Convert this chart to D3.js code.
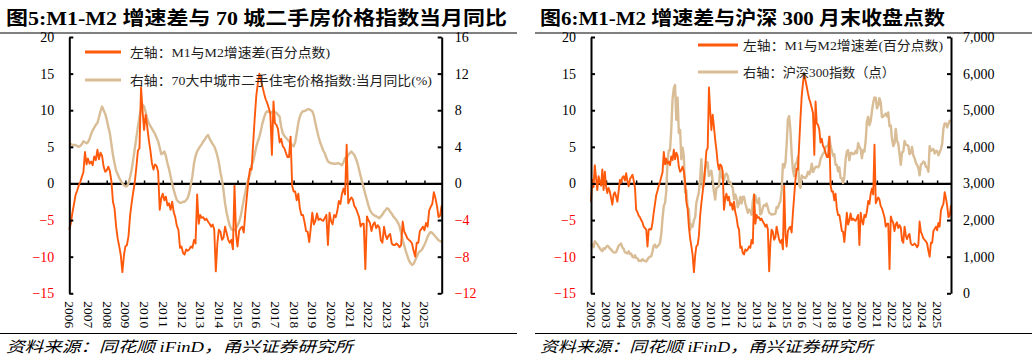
<!DOCTYPE html>
<html>
<head>
<meta charset="utf-8">
<script src="https://cdn.jsdelivr.net/npm/d3@7"></script>
<style>
  body { margin: 0; background: #fff; }
  svg text { font-family: "Liberation Serif", "Noto Sans CJK SC", serif; }
</style>
</head>
<body>
<svg id="chart" width="1032" height="360"></svg>
<script>
// M1-M2 spread (pct pts), monthly from 2002-03
var spreadStart = new Date(2002, 2, 1);
var spreadVals = [
  -2.5, 0.5, -0.5, 2.5, 0.8, -0.9, 1.0, 0.2, -0.3, 1.9,                 // 2002 Mar-Dec
  -0.9, 1.6, -0.4, -1.3, -0.6, -1.1, -2.0, -2.9, -1.5, -1.2, -1.8, -2.5, // 2003
  -1.0, 0.5, 0.1, 0.8, 1.0, 0.4, 1.4, 0.3, -0.4, 0.6, 0.9, 1.2,          // 2004
  0.4, -0.6, -3.6, -3.9, -4.4, -4.6, -5.0, -5.3, -5.9, -6.1, -6.3, -8.6, // 2005
  -6.3, -6.2, -6.3, -5.4, -4.0, -2.8, -1.6, -1.0, -0.3, 0.2, 0.9, 1.5,   // 2006
  4.3, 2.6, 3.4, 2.7, 3.0, 2.5, 3.7, 3.2, 4.6, 3.3, 4.2, 3.8,            // 2007
  2.3, 1.6, 1.8, 2.3, 1.7, 0.3, -2.5, -3.4, -5.9, -7.5, -8.6, -9.8,      // 2008
  -12.1, -9.8, -8.6, -8.4, -7.2, -4.4, -2.7, -1.2, 0.2, 2.2, 4.5, 4.8,   // 2009
  13.1, 9.8, 7.3, 9.4, 7.8, 6.0, 4.6, 2.8, 1.9, 2.6, 2.4, 1.6,           // 2010
  -3.6, -2.0, -1.4, -2.3, -1.8, -3.0, -2.7, -3.6, -2.5, -3.9, -4.6, -5.8, // 2011
  -6.3, -8.8, -8.6, -9.5, -9.7, -9.0, -9.2, -9.0, -8.6, -8.8, -7.7, -8.2, // 2012
  -1.5, -5.5, -4.3, -4.7, -4.6, -5.0, -4.8, -5.2, -5.5, -5.9, -5.6, -6.3, // 2013
  -12.0, -8.1, -6.3, -6.6, -7.7, -7.4, -5.9, -6.8, -7.7, -8.1, -7.7, -9.0, // 2014
  -0.3, -7.0, -8.6, -6.5, -6.1, -5.9, -6.7, -4.0, -1.7, 0.5, 2.0, 1.9,   // 2015
  5.5, 9.0, 11.9, 13.7, 15.0, 14.1, 13.2, 12.3, 11.5, 11.0, 10.3, 9.6,   // 2016
  3.9, 11.2, 8.2, 8.0, 7.4, 5.6, 6.1, 5.1, 4.8, 4.2, 3.6, 3.6,           // 2017
  6.4, -0.3, -1.1, -1.1, -2.3, -1.4, -3.4, -4.3, -4.3, -5.3, -6.5, -6.6, // 2018
  -8.0, -6.0, -4.0, -5.6, -5.1, -4.1, -5.0, -4.8, -5.0, -5.1, -4.7, -4.3, // 2019
  -8.4, -4.0, -5.1, -5.6, -4.3, -4.6, -3.8, -2.4, -2.8, -1.4, -0.7, -1.5, // 2020
  5.3, -2.7, -2.3, -1.9, -2.2, -3.1, -3.4, -4.0, -4.6, -5.9, -5.5, -5.5,  // 2021
  -11.7, -4.5, -5.0, -5.4, -6.5, -5.6, -5.3, -6.1, -5.7, -6.0, -7.8, -8.1, // 2022
  -5.9, -7.1, -7.6, -7.1, -6.9, -8.2, -8.4, -8.4, -8.2, -8.4, -8.7, -8.4, // 2023
  -5.2, -6.6, -7.0, -7.5, -7.7, -7.9, -8.2, -9.2, -10.0, -8.1, -8.1, -6.5, // 2024
  -6.2, -5.9, -6.4, -5.4, -5.9, -3.7, -3.2, -2.8, -1.2, -2.0, -3.1, -4.6, // 2025
  -4.4, -3.0                                                              // 2026 Jan-Feb
];

// CSI 300 month-end close, monthly from 2002-03
var hs300Start = new Date(2002, 2, 1);
var hs300Vals = [
  1290, 1340, 1260, 1420, 1380, 1340, 1280, 1230, 1180, 1150,
  1230, 1210, 1260, 1300, 1280, 1220, 1200, 1150, 1120, 1110, 1130, 1210,
  1300, 1330, 1360, 1250, 1220, 1120, 1110, 1090, 1150, 1070, 1080, 1000,
  980, 1040, 960, 960, 880, 900, 880, 930, 900, 880, 870, 923,
  980, 1000, 1010, 1140, 1300, 1330, 1250, 1280, 1320, 1380, 1630, 2041,
  2390, 2470, 2780, 3580, 3900, 3900, 4470, 5300, 5600, 5690, 4740, 5340,
  4380, 4460, 3660, 3980, 3750, 2750, 2820, 2350, 2290, 1730, 1880, 1820,
  1990, 2080, 2470, 2620, 2750, 3120, 3660, 2880, 3000, 3370, 3580, 3575,
  3200, 3280, 3350, 3070, 2780, 2560, 2870, 2900, 2930, 3410, 3200, 3130,
  3080, 3240, 3270, 3210, 3010, 3040, 2950, 2880, 2570, 2700, 2590, 2350,
  2460, 2630, 2450, 2630, 2640, 2460, 2330, 2200, 2290, 2250, 2140, 2520,
  2690, 2670, 2500, 2460, 2600, 2150, 2190, 2340, 2410, 2390, 2450, 2330,
  2200, 2180, 2150, 2160, 2160, 2170, 2350, 2330, 2450, 2510, 2810, 3530,
  3430, 3570, 4050, 4750, 4840, 4470, 3820, 3370, 3200, 3530, 3570, 3730,
  2950, 2880, 3220, 3160, 3170, 3150, 3200, 3320, 3250, 3340, 3540, 3310,
  3390, 3450, 3460, 3440, 3490, 3670, 3740, 3820, 3840, 4010, 4010, 4030,
  4280, 4020, 3900, 3760, 3800, 3510, 3510, 3330, 3440, 3150, 3140, 3010,
  3200, 3670, 3870, 3910, 3630, 3830, 3840, 3800, 3810, 3890, 3830, 4100,
  4000, 3940, 3690, 3910, 3870, 4160, 4700, 4820, 4590, 4700, 4980, 5210,
  5350, 5340, 5050, 5120, 5330, 5220, 4810, 4830, 4870, 4910, 4830, 4940,
  4560, 4580, 4220, 4020, 4090, 4490, 4170, 4080, 3800, 3510, 3850, 3870,
  4160, 4060, 4050, 4030, 3800, 3840, 4000, 3770, 3690, 3570, 3500, 3430,
  3220, 3520, 3540, 3600, 3580, 3460, 3440, 3320, 4020, 3890, 3920, 3940,
  3820, 3890, 3890, 3770, 3840, 3940, 4080, 4500, 4640, 4640, 4530, 4630,
  4710, 4690
];

// 70-city second-hand home price index, YoY %, monthly from 2006-03
var priceStart = new Date(2006, 2, 1);
var priceVals = [
  4.4, 4.3, 4.2, 4.2, 4.2, 4.1, 4.0, 4.1, 4.3, 4.6,
  4.5, 4.4, 4.5, 4.9, 5.4, 5.8, 6.1, 6.4, 6.6, 7.2, 7.9, 8.4,
  8.0, 7.6, 7.0, 6.2, 5.5, 4.3, 3.1, 2.2, 1.4, 1.0, 0.6, 0.3,
  0.0, -0.2, -0.3, -0.3, 0.0, 0.7, 1.5, 2.6, 3.8, 5.0, 6.2, 7.3,
  8.1, 8.6, 8.4, 7.8, 7.1, 6.6, 6.3, 6.0, 5.7, 5.4, 5.0, 4.6,
  3.9, 3.2, 3.3, 3.5, 3.0, 2.2, 1.6, 0.8, 0.0, -0.7, -1.3, -1.8,
  -2.0, -2.1, -2.1, -2.0, -2.0, -1.8, -1.6, -1.0, -0.1, 0.8, 2.2, 3.0,
  3.5, 3.8, 4.05, 4.3, 4.6, 4.8, 5.1, 5.3, 4.9, 4.6, 4.3, 4.05,
  3.6, 3.0, 2.3, 1.2, 0.4, -0.8, -2.2, -3.2, -4.0, -4.6, -5.0, -5.1,
  -5.1, -4.9, -4.6, -4.2, -3.6, -2.7, -1.8, -0.9, -0.1, 0.5, 1.0, 2.0,
  2.4, 3.2, 4.0, 4.6, 5.1, 5.8, 6.6, 7.2, 7.7, 7.9, 7.8, 7.7,
  7.8, 7.9, 7.8, 7.7, 7.5, 7.3, 6.2, 5.5, 5.2, 5.0, 4.8, 4.6,
  4.4, 4.2, 4.05, 4.5, 5.5, 6.6, 7.3, 7.7, 7.9, 7.9, 8.0, 8.1,
  8.1, 8.0, 7.9, 7.4, 6.6, 5.8, 5.1, 4.5, 4.05, 3.6, 3.3, 2.8,
  2.4, 2.3, 2.2, 2.2, 2.15, 2.15, 2.2, 2.2, 2.1, 2.0, 2.3, 2.8,
  2.8, 3.1, 3.3, 3.5, 3.3, 3.1, 2.7, 2.2, 1.5, 0.8, 0.1, -0.5,
  -1.2, -1.8, -2.4, -2.9, -3.2, -3.4, -3.5, -3.6, -3.7, -3.8, -3.6, -3.4,
  -3.1, -2.9, -2.7, -2.8, -3.1, -3.3, -3.6, -3.8, -4.0, -4.3, -4.7, -5.4,
  -6.2, -6.8, -7.4, -7.9, -8.4, -8.7, -8.9, -8.8, -8.4, -8.0, -7.6, -7.4,
  -7.3, -7.0, -6.7, -6.3, -5.8, -5.5, -5.3, -5.4, -5.6, -5.8, -6.0, -6.2,
  -6.3, -6.4
];

var spreadTicks = [-15, -10, -5, 0, 5, 10, 15, 20];
var priceTicks = [-12, -8, -4, 0, 4, 8, 12, 16];
var hs300Ticks = [0, 1000, 2000, 3000, 4000, 5000, 6000, 7000];

var ORANGE = "#ff5a0c", TAN = "#d9bd96", RED = "#ff0000";

function toSeries(start, vals) {
  return vals.map(function(v, i) { return { date: d3.timeMonth.offset(start, i), value: v }; });
}

var spread = toSeries(spreadStart, spreadVals);
var hs300 = toSeries(hs300Start, hs300Vals);
var price = toSeries(priceStart, priceVals);

var svg = d3.select("#chart");
svg.append("rect").attr("width", 1032).attr("height", 360).attr("fill", "#fff");

function drawPanel(cfg) {
  var g = svg.append("g");
  var top = 37, bottom = 293.3;
  var start = cfg.right[0].date, end = cfg.right[cfg.right.length - 1].date;
  var x = d3.scaleTime().domain([start, end]).range([cfg.x0, cfg.x1]);
  var yL = d3.scaleLinear().domain([-15, 20]).range([bottom, top]);
  var yR = d3.scaleLinear().domain(cfg.rDomain).range([bottom, top]);

  // title + rules
  g.append("text").attr("x", cfg.tx).attr("y", 25)
    .attr("font-size", 19).attr("font-weight", "bold")
    .attr("textLength", cfg.tw).attr("lengthAdjust", "spacingAndGlyphs")
    .text(cfg.title);
  g.append("line").attr("x1", cfg.px0).attr("x2", cfg.px1).attr("y1", 33).attr("y2", 33)
    .attr("stroke", "#000").attr("stroke-width", 1);
  g.append("line").attr("x1", cfg.px0).attr("x2", cfg.px1).attr("y1", 333.5).attr("y2", 333.5)
    .attr("stroke", "#000").attr("stroke-width", 1);
  g.append("text").attr("x", cfg.tx).attr("y", 352)
    .attr("font-size", 15).attr("font-style", "italic")
    .attr("textLength", cfg.sw).attr("lengthAdjust", "spacingAndGlyphs")
    .text("资料来源：同花顺 iFinD，甬兴证券研究所");

  // year ticks, one per 12 months from the first point
  var yearTicks = [];
  for (var k = 0; d3.timeMonth.offset(start, 12 * k) <= end; k++) yearTicks.push(d3.timeMonth.offset(start, 12 * k));

  // zero line with small upward ticks
  var zeroAxis = g.append("g").attr("transform", "translate(0," + yL(0) + ")")
    .call(d3.axisBottom(x).tickValues(yearTicks.slice(1)).tickSize(-3).tickSizeOuter(0).tickFormat(""));
  zeroAxis.select(".domain").attr("stroke-width", 2.2);
  zeroAxis.selectAll(".tick line").attr("stroke-width", 1.5);

  // year labels, rotated, under the plot
  var lab = g.append("g").attr("transform", "translate(0," + (bottom + 8) + ")")
    .call(d3.axisBottom(x).tickValues(yearTicks).tickSize(0).tickFormat(d3.timeFormat("%Y")));
  lab.select(".domain").remove();
  lab.selectAll("text")
    .attr("font-size", 13.5).attr("fill", "#000")
    .attr("transform", "rotate(90)").attr("text-anchor", "start")
    .attr("x", 0).attr("y", 0).attr("dy", "0.33em");

  // lines
  var lineL = d3.line().x(function(d) { return x(d.date); }).y(function(d) { return yL(d.value); });
  var lineR = d3.line().x(function(d) { return x(d.date); }).y(function(d) { return yR(d.value); });
  g.append("path").datum(cfg.right).attr("d", lineR)
    .attr("fill", "none").attr("stroke", TAN).attr("stroke-width", 2.4).attr("stroke-linejoin", "round");
  g.append("path").datum(cfg.left).attr("d", lineL)
    .attr("fill", "none").attr("stroke", ORANGE).attr("stroke-width", 1.9).attr("stroke-linejoin", "round");

  // y axes
  var axL = g.append("g").attr("transform", "translate(" + cfg.x0 + ",0)")
    .call(d3.axisLeft(yL).tickValues(spreadTicks).tickSize(-4).tickSizeOuter(0).tickPadding(15));
  axL.selectAll("text").attr("font-size", 14).attr("fill", function(d) { return d < 0 ? RED : "#000"; });
  var axR = g.append("g").attr("transform", "translate(" + cfg.x1 + ",0)")
    .call(d3.axisRight(yR).tickValues(cfg.rTicks).tickSize(-4).tickSizeOuter(0).tickPadding(cfg.rPad).tickFormat(cfg.rFormat));
  axR.selectAll("text").attr("font-size", 14).attr("fill", function(d) { return cfg.rRed && d < 0 ? RED : "#000"; });
  [axL, axR].forEach(function(a) {
    a.select(".domain").attr("stroke-width", 2);
    a.selectAll(".tick line").attr("stroke-width", 2);
  });

  // legend
  cfg.legend.forEach(function(it) {
    g.append("line").attr("x1", it.lx).attr("x2", it.lx + it.ll).attr("y1", it.y).attr("y2", it.y)
      .attr("stroke", it.color).attr("stroke-width", 3);
    g.append("text").attr("x", it.tx).attr("y", it.y).attr("dy", "0.35em")
      .attr("font-size", 13).attr("fill", "#222")
      .attr("textLength", it.tw).attr("lengthAdjust", "spacingAndGlyphs")
      .text(it.label);
  });
}

drawPanel({
  x0: 69.3, x1: 441.7, px0: 0, px1: 517, tx: 6, tw: 501, sw: 347,
  title: "图5:M1-M2 增速差与 70 城二手房价格指数当月同比",
  left: spread.filter(function(d) { return d.date >= priceStart; }),
  right: price, rDomain: [-12, 16], rTicks: priceTicks, rPad: 13, rRed: true,
  rFormat: d3.format("d"),
  legend: [
    { lx: 85, ll: 36, tx: 130, tw: 200, y: 52, color: ORANGE, label: "左轴：M1与M2增速差(百分点数)" },
    { lx: 85, ll: 36, tx: 130, tw: 302, y: 80, color: TAN, label: "右轴：70大中城市二手住宅价格指数:当月同比(%)" }
  ]
});

drawPanel({
  x0: 591, x1: 951, px0: 535, px1: 1032, tx: 540, tw: 405, sw: 333,
  title: "图6:M1-M2 增速差与沪深 300 月末收盘点数",
  left: spread, right: hs300, rDomain: [0, 7000], rTicks: hs300Ticks, rPad: 12, rRed: false,
  rFormat: d3.format(","),
  legend: [
    { lx: 698, ll: 40, tx: 743, tw: 200, y: 45, color: ORANGE, label: "左轴：M1与M2增速差(百分点数)" },
    { lx: 698, ll: 40, tx: 743, tw: 152, y: 72, color: TAN, label: "右轴：沪深300指数（点）" }
  ]
});
</script>
</body>
</html>
